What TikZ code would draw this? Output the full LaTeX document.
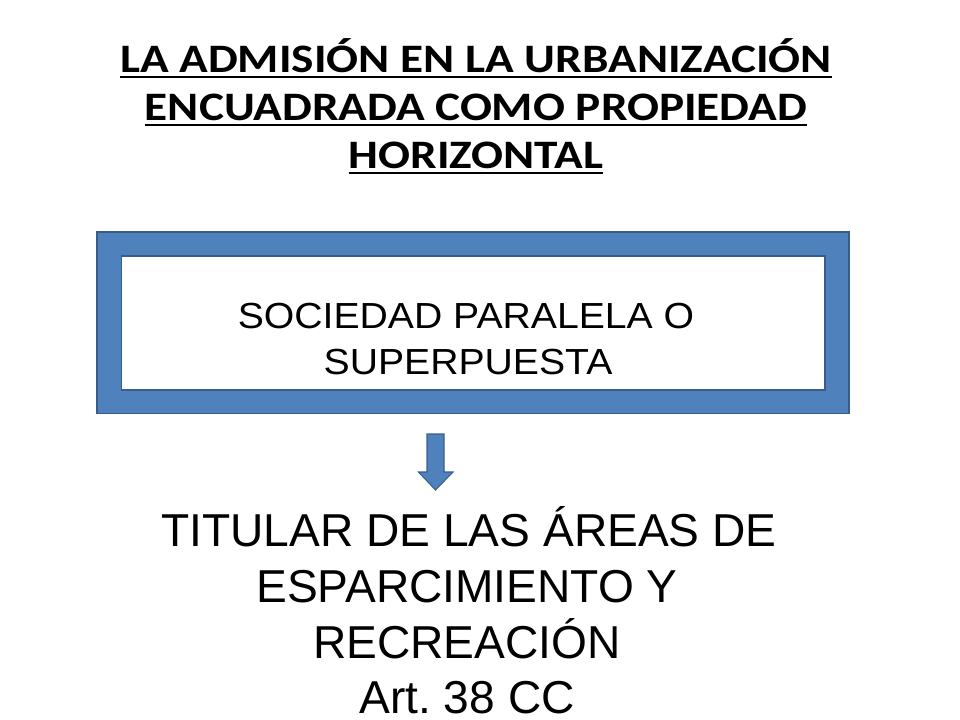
\documentclass[tikz,border=0pt]{standalone}
\usepackage{fontspec}
\setmainfont{Liberation Sans}
\newfontfamily\titlefont[FakeStretch=1.17]{Carlito}
\newfontfamily\boxfont[FakeStretch=1.08]{Liberation Sans}
\definecolor{frameblue}{HTML}{4F81BD}
\definecolor{edgeblue}{HTML}{385D8A}

\begin{document}
\begin{tikzpicture}
  [x=0.75pt,y=-0.75pt,
   title/.style={anchor=base,inner sep=0pt,font=\titlefont\bfseries\fontsize{30.3}{36}\selectfont},
   boxtext/.style={anchor=base,inner sep=0pt,font=\boxfont\fontsize{27.2}{32}\selectfont},
   result/.style={anchor=base,inner sep=0pt,text depth=0pt,font=\fontsize{34.6}{42}\selectfont},
   underl/.style={line width=1.5pt},
   outerbox/.style={draw=edgeblue,line width=1.1pt,fill=frameblue,minimum width=564pt,minimum height=136.1pt,inner sep=0pt},
   innerbox/.style={draw=edgeblue,line width=0.8pt,fill=white,minimum width=527.6pt,minimum height=100.5pt,inner sep=0pt},
   blockarrow/.style={draw=edgeblue,line width=0.8pt,fill=frameblue,line join=miter}]
  \useasboundingbox (0,0) rectangle (960,720);

  \node[title] (t1) at (476,73) {LA ADMISIÓN EN LA URBANIZACIÓN};
  \node[title] (t2) at (476,121) {ENCUADRADA COMO PROPIEDAD};
  \node[title] (t3) at (476,169) {HORIZONTAL};

  \draw[underl] ([yshift=-3pt]t1.base west) -- ([yshift=-3pt]t1.base east);
  \draw[underl] ([yshift=-3pt]t2.base west) -- ([yshift=-3pt]t2.base east);
  \draw[underl] ([yshift=-3pt]t3.base west) -- ([yshift=-3pt]t3.base east);

  \node[outerbox] (frame) at (473,322.75) {};
  \node[innerbox] (soc) at (473.25,323) {};
  \node[boxtext] (s1) at (466,329) {SOCIEDAD PARALELA O};
  \node[boxtext] (s2) at (468,374) {SUPERPUESTA};

  \draw[blockarrow] (427,434) -- (444,434) -- (444,472) -- (453,472)
    -- (435.5,490) -- (418.5,472) -- (427,472) -- cycle;

  \node[result] (r1) at (469,546) {TITULAR DE LAS ÁREAS DE};
  \node[result] (r2) at (467,602) {ESPARCIMIENTO Y};
  \node[result] (r3) at (467,658) {RECREACIÓN};
  \node[result] (r4) at (467,713) {Art.\ 38 CC};
\end{tikzpicture}
\end{document}
